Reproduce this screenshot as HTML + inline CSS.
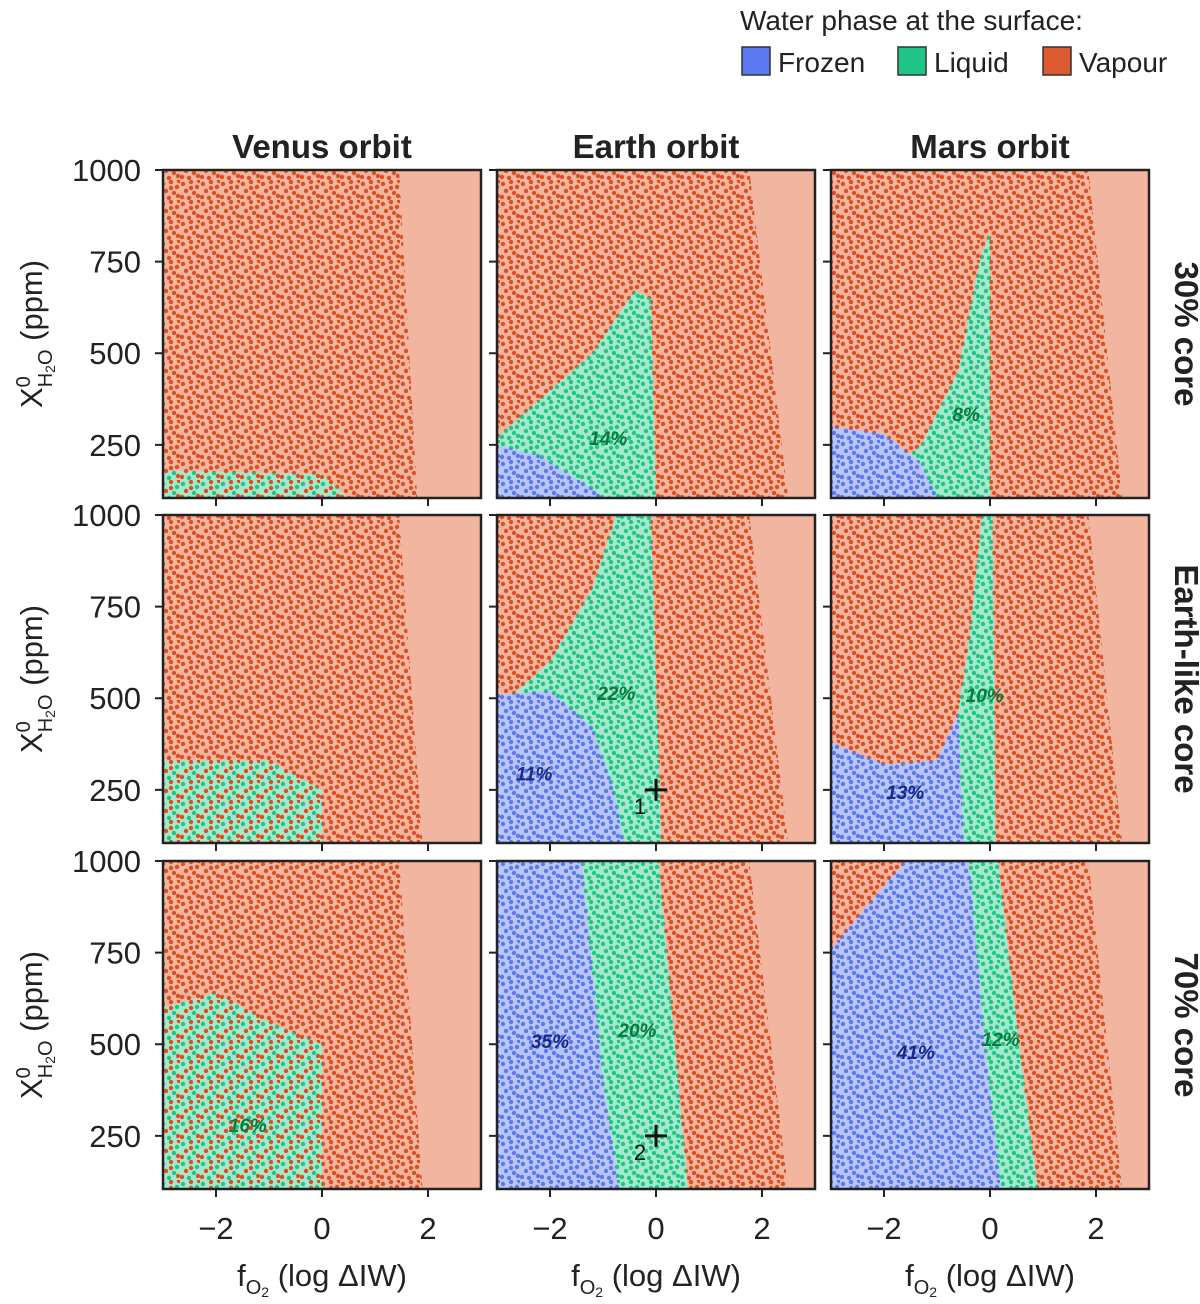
<!DOCTYPE html>
<html><head><meta charset="utf-8"><style>
html,body{margin:0;padding:0;background:#fff;}
svg{display:block;font-family:"Liberation Sans",sans-serif;}
</style></head><body>
<svg id="chart" width="1200" height="1304" viewBox="0 0 1200 1304" xmlns="http://www.w3.org/2000/svg">
<defs>
<pattern id="p-vap" width="20" height="20" patternUnits="userSpaceOnUse">
<g fill="#dc4f22"><circle cx="3" cy="4" r="2.2"/><circle cx="11" cy="2" r="2.2"/><circle cx="17" cy="7" r="2.2"/><circle cx="6" cy="11" r="2.2"/><circle cx="14" cy="13" r="2.2"/><circle cx="2" cy="17" r="2.2"/><circle cx="9" cy="18" r="2.2"/><circle cx="18" cy="16" r="2.2"/><circle cx="11" cy="8" r="2.2"/><circle cx="19" cy="1" r="2.2"/></g></pattern>
<pattern id="p-fro" width="20" height="20" patternUnits="userSpaceOnUse">
<rect width="20" height="20" fill="#b9c6f7"/>
<g fill="#5a79f2"><circle cx="3" cy="4" r="2.2"/><circle cx="11" cy="2" r="2.2"/><circle cx="17" cy="7" r="2.2"/><circle cx="6" cy="11" r="2.2"/><circle cx="14" cy="13" r="2.2"/><circle cx="2" cy="17" r="2.2"/><circle cx="9" cy="18" r="2.2"/><circle cx="18" cy="16" r="2.2"/><circle cx="11" cy="8" r="2.2"/><circle cx="19" cy="1" r="2.2"/></g></pattern>
<pattern id="p-liq" width="20" height="20" patternUnits="userSpaceOnUse">
<rect width="20" height="20" fill="#a6e8cc"/>
<g fill="#20c688"><circle cx="3" cy="4" r="2.2"/><circle cx="11" cy="2" r="2.2"/><circle cx="17" cy="7" r="2.2"/><circle cx="6" cy="11" r="2.2"/><circle cx="14" cy="13" r="2.2"/><circle cx="2" cy="17" r="2.2"/><circle cx="9" cy="18" r="2.2"/><circle cx="18" cy="16" r="2.2"/><circle cx="11" cy="8" r="2.2"/><circle cx="19" cy="1" r="2.2"/></g></pattern>
<pattern id="p-mix" width="20" height="20" patternUnits="userSpaceOnUse">
<rect width="20" height="20" fill="#a6e8cc"/>
<g fill="#20c688"><circle cx="3" cy="4" r="2.2"/><circle cx="17" cy="7" r="2.2"/><circle cx="14" cy="13" r="2.2"/><circle cx="9" cy="18" r="2.2"/></g>
<g fill="#dc4f22"><circle cx="11" cy="2" r="2.2"/><circle cx="6" cy="11" r="2.2"/><circle cx="2" cy="17" r="2.2"/><circle cx="18" cy="16" r="2.2"/><circle cx="11" cy="8" r="2.2"/><circle cx="19" cy="1" r="2.2"/></g></pattern>
</defs>
</svg>
<script>
// ----- data (row-major: row0 = 30% core, row1 = Earth-like, row2 = 70% core; col0 Venus, col1 Earth, col2 Mars)
const xTicks = [-2, 0, 2];
const yTicks = [250, 500, 750, 1000];
const colTitles = ["Venus orbit", "Earth orbit", "Mars orbit"];
const rowTitles = ["30% core", "Earth-like core", "70% core"];
// right edge of sampled points [x at y=1000, x at y=105]
const sampleEdge = [
 [[1.45,1.8],[1.75,2.5],[1.85,2.5]],
 [[1.45,1.9],[1.75,2.5],[1.85,2.5]],
 [[1.45,1.9],[1.75,2.5],[1.85,2.5]]
];
const liquidRegions = [
 [[[-3,105],[-3,180],[0,170],[0.5,105]],
  [[-3,105],[-3,270],[-1.2,500],[-0.4,670],[-0.1,650],[0,105]],
  [[-2.5,105],[-1.3,250],[-0.6,450],[-0.2,750],[0,830],[0,105]]],
 [[[-3,105],[-3,330],[-1,330],[0,250],[0,105]],
  [[-3,105],[-3,470],[-2,600],[-1.2,800],[-0.75,1000],[-0.1,1000],[0.1,105]],
  [[-0.5,105],[-0.6,460],[-0.4,650],[-0.15,1000],[0.05,1000],[0.1,105]]],
 [[[-3,105],[-3,600],[-2,640],[-1,560],[0,500],[0,105]],
  [[-1.4,1000],[0.05,1000],[0.6,105],[-0.7,105],[-1.0,400]],
  [[-0.4,1000],[0.15,1000],[0.55,500],[0.9,105],[0.2,105],[-0.1,500]]]
];
const liquidMixed = [[true,false,false],[true,false,false],[true,false,false]];
const frozenRegions = [
 [[],
  [[-3,105],[-3,250],[-2.2,220],[-1.2,130],[-1,105]],
  [[-3,105],[-3,300],[-2,280],[-1.3,200],[-1,105]]],
 [[],
  [[-3,105],[-3,510],[-2,520],[-1.2,420],[-0.8,250],[-0.6,105]],
  [[-3,105],[-3,380],[-2,320],[-1,330],[-0.6,460],[-0.5,105]]],
 [[],
  [[-3,105],[-3,1000],[-1.4,1000],[-1.0,400],[-0.7,105]],
  [[-3,105],[-3,760],[-1.6,1000],[-0.4,1000],[-0.1,500],[0.2,105]]]
];
const pctLabels = [
 [null,["14%",-0.9,250,"#0a7a3e"],["8%",-0.45,315,"#0a7a3e"]],
 [null,["22%",-0.75,495,"#0a7a3e"],["10%",-0.1,490,"#0a7a3e"]],
 [["16%",-1.4,260,"#0a7a3e"],["20%",-0.35,520,"#0a7a3e"],["12%",0.2,495,"#0a7a3e"]]
];
const frozenLabels = [
 [null,null,null],
 [null,["11%",-2.3,275],["13%",-1.6,225]],
 [null,["35%",-2.0,490],["41%",-1.4,460]]
];
const crosses = [[1,1,0,250,"1"],[2,1,0,250,"2"]];

// ----- layout
const NS = "http://www.w3.org/2000/svg";
const svg = document.getElementById("chart");
const lefts = [163, 497, 831], tops = [170, 515, 861], W = 318, H = 328;
function xs(v, c){ return lefts[c] + (v + 3) / 6 * W; }
function ys(v, r){ return tops[r] + (1000 - v) / 895 * H; }
function mk(tag, attrs, parent){ const e = document.createElementNS(NS, tag); for (const k in attrs) e.setAttribute(k, attrs[k]); (parent||svg).appendChild(e); return e; }
function pts(poly, r, c){ return poly.map(p => xs(p[0], c).toFixed(1) + "," + ys(p[1], r).toFixed(1)).join(" "); }

for (let r = 0; r < 3; r++) for (let c = 0; c < 3; c++) {
  const g = mk("g", {});
  
  
  const cp = mk("clipPath", {id: "cp" + r + c}, g);
  mk("rect", {x: lefts[c], y: tops[r], width: W, height: H}, cp);
  const inner = mk("g", {"clip-path": "url(#cp" + r + c + ")"}, g);
  mk("rect", {x: lefts[c], y: tops[r], width: W, height: H, fill: "#f2b5a0"}, inner);
  const e = sampleEdge[r][c];
  const vap = mk("polygon", {points: pts([[-3.2,1010],[e[0],1010],[e[1],95],[-3.2,95]], r, c), fill: "url(#p-vap)"}, inner);
  
  
  if (liquidRegions[r][c].length) {
    const lq = mk("polygon", {points: pts(liquidRegions[r][c], r, c), fill: liquidMixed[r][c] ? "url(#p-mix)" : "url(#p-liq)"}, inner);
    
    
  }
  if (frozenRegions[r][c].length) {
    const fr = mk("polygon", {points: pts(frozenRegions[r][c], r, c), fill: "url(#p-fro)"}, inner);
    
    
  }
  const pl = pctLabels[r][c];
  if (pl) { const t = mk("text", {x: xs(pl[1], c), y: ys(pl[2], r), fill: pl[3], "font-size": 19, "font-weight": "bold", "font-style": "italic", "text-anchor": "middle"}, g); t.textContent = pl[0];
      }
  const fl = frozenLabels[r][c];
  if (fl) { const t = mk("text", {x: xs(fl[1], c), y: ys(fl[2], r), fill: "#1a2a80", "font-size": 19, "font-weight": "bold", "font-style": "italic", "text-anchor": "middle"}, g); t.textContent = fl[0];
      }
  mk("rect", {x: lefts[c], y: tops[r], width: W, height: H, fill: "none", stroke: "#222", "stroke-width": 2.5}, g);
  yTicks.forEach(v => {
    mk("line", {x1: lefts[c] - 8, x2: lefts[c], y1: ys(v, r), y2: ys(v, r), stroke: "#222", "stroke-width": 2}, g);
    if (c === 0) { const t = mk("text", {x: lefts[c] - 22, y: ys(v, r) + 11, "font-size": 31, "text-anchor": "end", fill: "#222"}, g); t.textContent = v;
        }
  });
  xTicks.forEach(v => {
    mk("line", {x1: xs(v, c), x2: xs(v, c), y1: tops[r] + H, y2: tops[r] + H + 8, stroke: "#222", "stroke-width": 2}, g);
    if (r === 2) { const t = mk("text", {x: xs(v, c), y: tops[r] + H + 50, "font-size": 31, "text-anchor": "middle", fill: "#222"}, g); t.textContent = v < 0 ? "\u2212" + (-v) : v;
        }
  });
}
crosses.forEach(cr => {
  const [r, c, x, y, lab] = cr;
  const g = mk("g", {stroke: "#111", "stroke-width": 3});
  
  
  mk("line", {x1: xs(x, c) - 11, x2: xs(x, c) + 11, y1: ys(y, r), y2: ys(y, r)}, g);
  mk("line", {x1: xs(x, c), x2: xs(x, c), y1: ys(y, r) - 11, y2: ys(y, r) + 11}, g);
  const t = mk("text", {x: xs(x, c) - 16, y: ys(y, r) + 24, "font-size": 22, "text-anchor": "middle", fill: "#111", stroke: "none"}, g); t.textContent = lab;
});
colTitles.forEach((s, c) => { const t = mk("text", {x: lefts[c] + W / 2, y: 158, "font-size": 33, "font-weight": "bold", "text-anchor": "middle", fill: "#222"}); t.textContent = s;
    });
rowTitles.forEach((s, r) => { const cy = tops[r] + H / 2; const t = mk("text", {x: 1175, y: cy, "font-size": 33, "font-weight": "bold", "text-anchor": "middle", fill: "#222", transform: "rotate(90 1175 " + cy + ")"}); t.textContent = s;
    });
for (let r = 0; r < 3; r++) {
  const cy = tops[r] + H / 2;
  const t = mk("text", {x: 42, y: cy, "font-size": 31, "text-anchor": "middle", fill: "#222", transform: "rotate(-90 42 " + cy + ")"});
   
  t.innerHTML = 'X<tspan font-size="20" dy="-12">0</tspan><tspan font-size="20" dx="-11" dy="22">H</tspan><tspan font-size="14" dy="3">2</tspan><tspan font-size="20" dy="-3">O</tspan><tspan dy="-10"> (ppm)</tspan>';
}
for (let c = 0; c < 3; c++) {
  const t = mk("text", {x: lefts[c] + W / 2, y: 1286, "font-size": 31, "text-anchor": "middle", fill: "#222"});
   
  t.innerHTML = 'f<tspan font-size="20" dy="8">O</tspan><tspan font-size="14" dy="3">2</tspan><tspan dy="-11"> (log \u0394IW)</tspan>';
}
const lg = mk("g", {});
 
const lt = mk("text", {x: 740, y: 30, "font-size": 28, fill: "#222"}, lg); lt.textContent = "Water phase at the surface:";
const legItems = [["Frozen", "#5a79f2", 742], ["Liquid", "#20c688", 898], ["Vapour", "#dc5a30", 1043]];
legItems.forEach(it => {
  const e = mk("g", {}, lg);
  
  
  mk("rect", {x: it[2], y: 47, width: 28, height: 28, fill: it[1], stroke: "#333", "stroke-width": 1.5}, e);
  const t = mk("text", {x: it[2] + 36, y: 72, "font-size": 28, fill: "#222"}, e); t.textContent = it[0];
});
</script>
</body></html>
